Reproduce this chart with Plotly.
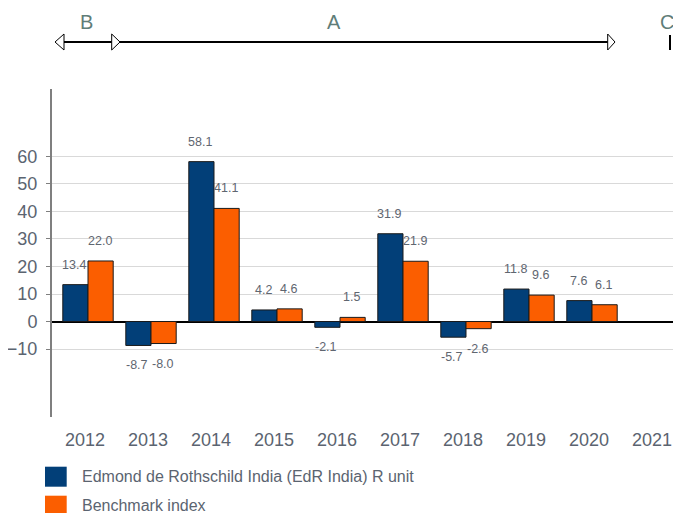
import plotly.graph_objects as go

# ---- data ----
years = ["2012", "2013", "2014", "2015", "2016", "2017", "2018", "2019", "2020", "2021"]
fund = [13.4, -8.7, 58.1, 4.2, -2.1, 31.9, -5.7, 11.8, 7.6, None]
bench = [22.0, -8.0, 41.1, 4.6, 1.5, 21.9, -2.6, 9.6, 6.1, None]
fund_name = "Edmond de Rothschild India (EdR India) R unit"
bench_name = "Benchmark index"
y_ticks = [-10, 0, 10, 20, 30, 40, 50, 60]
periods = ["B", "A", "C"]

BLUE = "#023f78"
ORANGE = "#fb5e00"
TXT = "#5b6470"
LBL = "#5f6670"
PER = "#5f7d78"
FONT = "Liberation Sans, Arial, sans-serif"

OFF = 8  # page body margin
W, H = 681 - OFF, 513 - OFF
ML, MT = 52 - OFF, 89 - OFF
PLOT_BOTTOM = 417 - OFF
PLOT_RIGHT = 681 - OFF
MR = W - PLOT_RIGHT
MB = H - PLOT_BOTTOM
PW, PH = PLOT_RIGHT - ML, PLOT_BOTTOM - MT
STEP = 63.0
X0 = -36 / STEP


def xp(px):
    return (px - OFF - ML) / PW


def yp(py):
    return (PLOT_BOTTOM - (py - OFF)) / PH


fig = go.Figure()
fig.add_trace(go.Bar(x=years, y=fund, name=fund_name, marker=dict(color=BLUE, line=dict(color="#1a1a1a", width=1))))
fig.add_trace(go.Bar(x=years, y=bench, name=bench_name, marker=dict(color=ORANGE, line=dict(color="#1a1a1a", width=1))))

annotations = []
for series, dx in ((fund, -12.6), (bench, 12.6)):
    for i, v in enumerate(series):
        if v is None:
            continue
        annotations.append(dict(
            x=i, y=v, xref="x", yref="y", text=f"{v:.1f}", showarrow=False,
            xshift=dx - 1, yshift=20 if v >= 0 else -20, xanchor="center", yanchor="middle",
            font=dict(size=12.5, color=LBL, family=FONT)))

# period labels
for lab, px in zip(periods, (86, 334, 667)):
    annotations.append(dict(x=xp(px), y=yp(22), xref="paper", yref="paper", text=lab, showarrow=False,
                            xanchor="center", yanchor="middle",
                            font=dict(size=20, color=PER, family="Liberation Sans Narrow, Arial Narrow, " + FONT)))

# legend
for i, (name, col) in enumerate(((fund_name, BLUE), (bench_name, ORANGE))):
    cy = 476.7 + i * 29
    annotations.append(dict(x=xp(79.5), y=yp(cy), xref="paper", yref="paper", text=name, showarrow=False,
                            xanchor="left", yanchor="middle", font=dict(size=16, color=TXT, family=FONT)))

shapes = []
for i, col in enumerate((BLUE, ORANGE)):
    top = 466.7 + i * 29
    shapes.append(dict(type="rect", xref="paper", yref="paper", x0=xp(45), x1=xp(66.7), y0=yp(top), y1=yp(top + 20),
                       fillcolor=col, line=dict(width=0), layer="above"))

# arrow line
ly = 42
shapes.append(dict(type="line", xref="paper", yref="paper", x0=xp(56), x1=xp(614), y0=yp(ly), y1=yp(ly),
                   line=dict(color="black", width=2)))


def tri(tip, back):
    return (f"M {xp(back)},{yp(ly - 8)} L {xp(tip)},{yp(ly)} L {xp(back)},{yp(ly + 8)} Z")


for tip, back in ((55, 64), (120, 111.7), (615, 607.7)):
    shapes.append(dict(type="path", xref="paper", yref="paper", path=tri(tip, back),
                       fillcolor="white", line=dict(color="black", width=1)))

shapes.append(dict(type="line", xref="paper", yref="paper", x0=xp(670), x1=xp(670), y0=yp(35), y1=yp(50),
                   line=dict(color="black", width=2)))

fig.update_layout(
    width=W, height=H,
    margin=dict(l=ML, r=MR, t=MT, b=MB, pad=0, autoexpand=False),
    paper_bgcolor="white", plot_bgcolor="white",
    barmode="group", bargap=0.2, bargroupgap=0,
    showlegend=False,
    font=dict(family=FONT, color=TXT),
    annotations=annotations, shapes=shapes,
    xaxis=dict(type="category", categoryorder="array", categoryarray=years, automargin=False,
               range=[X0, X0 + PW / STEP], showgrid=False, ticks="", showline=False,
               tickfont=dict(size=18, color=TXT, family=FONT), ticklabelstandoff=10, ticklabelshift=-3),
    yaxis=dict(range=[-34.7, 84.5], tickvals=y_ticks, showgrid=True, gridcolor="#d9d9d9", gridwidth=1,
               automargin=False,
               zeroline=True, zerolinecolor="black", zerolinewidth=1.5,
               showline=True, linecolor="#7f7f7f", linewidth=2,
               ticks="outside", ticklen=4, tickcolor="#7f7f7f", tickwidth=1,
               tickfont=dict(size=18, color=TXT, family=FONT), ticklabelstandoff=5),
)

fig.write_html("out.html")
